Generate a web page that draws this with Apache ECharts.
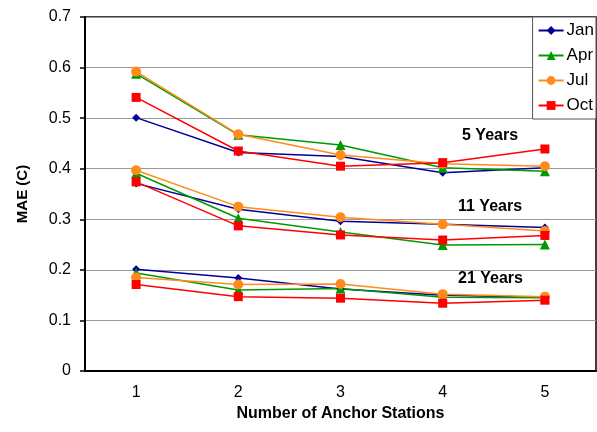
<!DOCTYPE html>
<html>
<head>
<meta charset="utf-8">
<script src="https://cdn.jsdelivr.net/npm/echarts@6/dist/echarts.min.js"></script>
<style>
  html, body { margin: 0; padding: 0; background: #fff; }
  #chart { width: 597px; height: 432px; }
</style>
</head>
<body>
<div id="chart"></div>
<script>
// categories and tick labels
var stations = ['1', '2', '3', '4', '5'];
var months = ['Jan', 'Apr', 'Jul', 'Oct'];

// 5 Years
var jan5 = [0.501, 0.432, 0.424, 0.392, 0.402];
var apr5 = [0.588, 0.467, 0.447, 0.402, 0.395];
var jul5 = [0.592, 0.468, 0.427, 0.410, 0.405];
var oct5 = [0.541, 0.435, 0.405, 0.412, 0.439];
// 11 Years
var jan11 = [0.371, 0.320, 0.296, 0.290, 0.284];
var apr11 = [0.391, 0.302, 0.275, 0.249, 0.250];
var jul11 = [0.397, 0.325, 0.304, 0.290, 0.277];
var oct11 = [0.374, 0.287, 0.269, 0.259, 0.268];
// 21 Years
var jan21 = [0.201, 0.184, 0.162, 0.150, 0.146];
var apr21 = [0.194, 0.160, 0.163, 0.146, 0.145];
var jul21 = [0.185, 0.171, 0.172, 0.152, 0.147];
var oct21 = [0.171, 0.147, 0.144, 0.134, 0.140];

(function () {
  var myChart = echarts.init(document.getElementById('chart'));

  // 每个月的样式
  var styles = {
    Jan: { color: '#000099', symbol: 'diamond', size: 8 },
    Apr: { color: '#009900', symbol: 'triangle', size: 10 },
    Jul: { color: '#ff8c1a', symbol: 'circle', size: 10 },
    Oct: { color: '#ff0000', symbol: 'rect', size: 9 }
  };

  function makeSeries(name, data) {
    var s = styles[name];
    return {
      name: name,
      type: 'line',
      data: data,
      symbol: s.symbol,
      symbolSize: s.size,
      itemStyle: { color: s.color },
      lineStyle: { color: s.color, width: 1.5 },
      animation: false
    };
  }

  var option = {
    textStyle: { fontFamily: 'Liberation Sans, Arial, sans-serif' },
    legend: {
      data: months,
      orient: 'vertical',
      right: 1,
      top: 17,
      backgroundColor: '#fff',
      borderColor: '#555',
      borderWidth: 1,
      borderRadius: 0,
      padding: [5, 2, 5, 5],
      itemGap: 8,
      itemWidth: 25,
      itemHeight: 11,
      textStyle: { color: '#000', fontSize: 17, padding: [0, 0, 0, -2] }
    },
    grid: {
      left: 85,
      right: 1,
      top: 17,
      bottom: 61,
      show: true,
      borderColor: '#000',
      borderWidth: 1.5
    },
    xAxis: {
      type: 'category',
      data: stations,
      name: 'Number of Anchor Stations',
      nameLocation: 'middle',
      nameGap: 34,
      nameTextStyle: { color: '#000', fontSize: 16, fontWeight: 'bold' },
      axisLine: { lineStyle: { color: '#000', width: 2 } },
      axisTick: { length: 5, lineStyle: { color: '#000', width: 1.5 } },
      axisLabel: { color: '#000', fontSize: 16, margin: 14 },
      splitLine: { show: false }
    },
    yAxis: {
      type: 'value',
      min: 0,
      max: 0.7,
      interval: 0.1,
      name: 'MAE (C)',
      nameLocation: 'middle',
      nameGap: 55,
      nameRotate: 90,
      nameTextStyle: { color: '#000', fontSize: 15, fontWeight: 'bold' },
      axisLine: { show: true, lineStyle: { color: '#000', width: 2 } },
      axisTick: { show: true, length: 5, lineStyle: { color: '#000', width: 1.5 } },
      axisLabel: { color: '#000', fontSize: 16, margin: 14 },
      splitLine: { lineStyle: { color: '#999', width: 1 } }
    },
    graphic: [
      { type: 'text', left: 462, top: 128, style: { text: '5 Years', font: 'bold 16px Liberation Sans', fill: '#000' } },
      { type: 'text', left: 458, top: 199, style: { text: '11 Years', font: 'bold 16px Liberation Sans', fill: '#000' } },
      { type: 'text', left: 458, top: 271, style: { text: '21 Years', font: 'bold 16px Liberation Sans', fill: '#000' } }
    ],
    series: [
      makeSeries('Jan', jan5), makeSeries('Apr', apr5), makeSeries('Jul', jul5), makeSeries('Oct', oct5),
      makeSeries('Jan', jan11), makeSeries('Apr', apr11), makeSeries('Jul', jul11), makeSeries('Oct', oct11),
      makeSeries('Jan', jan21), makeSeries('Apr', apr21), makeSeries('Jul', jul21), makeSeries('Oct', oct21)
    ]
  };
  myChart.setOption(option);
})();
</script>
</body>
</html>
